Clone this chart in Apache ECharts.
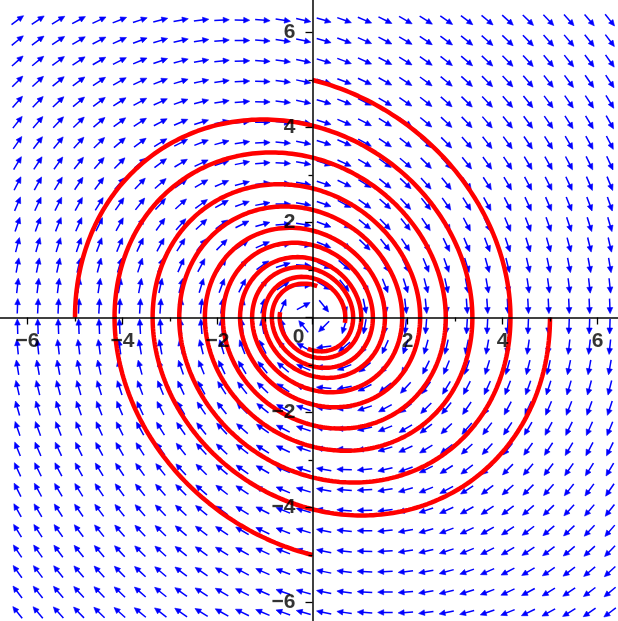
<!DOCTYPE html>
<html>
<head>
<meta charset="utf-8">
<script src="https://cdn.jsdelivr.net/npm/echarts@6/dist/echarts.min.js"></script>
<style>
  html, body { margin: 0; padding: 0; background: #fff; }
  #chart { width: 618px; height: 621px; }
</style>
</head>
<body>
<div id="chart"></div>
<script>
// Phase portrait of the damped oscillator  x' = y,  y' = -x - 0.25 y
const systemMatrix = [[0, 1], [-1, -0.25]];

// Starting points of the four solution curves and the time span they cover
const initialPoints = [[0, 5], [5, 0], [0, -5], [-5, 0]];
const timeSpan = [0, 16];
const timeStep = 0.02;

// Direction-field sample positions (same grid on both axes)
const fieldGridX = [-6.21, -5.78, -5.35, -4.92, -4.49, -4.06, -3.63, -3.20, -2.77, -2.34,
                    -1.91, -1.48, -1.05, -0.62, -0.19, 0.24, 0.67, 1.10, 1.53, 1.96,
                    2.39, 2.82, 3.25, 3.68, 4.11, 4.54, 4.97, 5.40, 5.83, 6.26];
const fieldGridY = [-6.21, -5.78, -5.35, -4.92, -4.49, -4.06, -3.63, -3.20, -2.77, -2.34,
                    -1.91, -1.48, -1.05, -0.62, -0.19, 0.24, 0.67, 1.10, 1.53, 1.96,
                    2.39, 2.82, 3.25, 3.68, 4.11, 4.54, 4.97, 5.40, 5.83, 6.26];

// Axis extent and labelled tick values
const axisRange = [-8, 8];
const majorStep = 2;
const xTickLabels = [-6, -4, -2, 2, 4, 6];
const yTickLabels = [-6, -4, -2, 2, 4, 6];

function field(x, y) {
  return [
    systemMatrix[0][0] * x + systemMatrix[0][1] * y,
    systemMatrix[1][0] * x + systemMatrix[1][1] * y
  ];
}

// Classical RK4 integration of one solution curve
function solutionCurve(p0) {
  const pts = [[p0[0], p0[1]]];
  let x = p0[0], y = p0[1];
  const n = Math.round((timeSpan[1] - timeSpan[0]) / timeStep);
  const h = timeStep;
  for (let i = 0; i < n; i++) {
    const k1 = field(x, y);
    const k2 = field(x + h / 2 * k1[0], y + h / 2 * k1[1]);
    const k3 = field(x + h / 2 * k2[0], y + h / 2 * k2[1]);
    const k4 = field(x + h * k3[0], y + h * k3[1]);
    x += h / 6 * (k1[0] + 2 * k2[0] + 2 * k3[0] + k4[0]);
    y += h / 6 * (k1[1] + 2 * k2[1] + 2 * k3[1] + k4[1]);
    pts.push([x, y]);
  }
  return pts;
}

const fieldData = [];
fieldGridY.forEach(function (gy) {
  fieldGridX.forEach(function (gx) { fieldData.push([gx, gy]); });
});

const BLUE = '#0000ff';
const ARROW_LEN = 15, HEAD_LEN = 6, HEAD_HALF = 2.8;

function renderArrow(params, api) {
  const x = api.value(0), y = api.value(1);
  const v = field(x, y);
  const c = api.coord([x, y]);
  const tip0 = api.coord([x + v[0], y + v[1]]);
  let ux = tip0[0] - c[0], uy = tip0[1] - c[1];
  const n = Math.hypot(ux, uy) || 1;
  ux /= n; uy /= n;
  const tail = [c[0] - ux * ARROW_LEN / 2, c[1] - uy * ARROW_LEN / 2];
  const tip = [c[0] + ux * ARROW_LEN / 2, c[1] + uy * ARROW_LEN / 2];
  const base = [tip[0] - ux * HEAD_LEN, tip[1] - uy * HEAD_LEN];
  return {
    type: 'group',
    children: [
      { type: 'line', shape: { x1: tail[0], y1: tail[1], x2: base[0] + ux, y2: base[1] + uy },
        style: { stroke: BLUE, lineWidth: 1.5 } },
      { type: 'polygon',
        shape: { points: [tip, [base[0] - uy * HEAD_HALF, base[1] + ux * HEAD_HALF],
                               [base[0] + uy * HEAD_HALF, base[1] - ux * HEAD_HALF]] },
        style: { fill: BLUE, stroke: BLUE, lineWidth: 0.6 } }
    ]
  };
}

function signed(v) {
  return v < 0 ? '\u2212' + (-v) : String(v);
}

const labelFont = { fontFamily: 'Liberation Sans', fontSize: 21, fontWeight: 'bold', color: '#000000' };

const curveSeries = initialPoints.map(function (p) {
  return {
    type: 'line',
    data: solutionCurve(p),
    showSymbol: false,
    symbol: 'none',
    smooth: false,
    z: 3,
    lineStyle: { color: '#ff0000', width: 4.5 },
    silent: true
  };
});

function labelSeries(points, label) {
  return {
    type: 'scatter',
    data: points,
    symbolSize: 0,
    zlevel: 1,
    z: 20,
    silent: true,
    label: Object.assign({ show: true }, labelFont, label)
  };
}

const axisStyle = {
  axisLine: { show: true, onZero: true, lineStyle: { color: '#000', width: 1.5 } },
  axisTick: { show: true, length: 7, lineStyle: { color: '#000', width: 1.3 } },
  minorTick: { show: true, splitNumber: 2, length: 4, lineStyle: { color: '#000', width: 1.3 } },
  splitLine: { show: false },
  axisLabel: { show: false }
};

const chart = echarts.init(document.getElementById('chart'), null, { renderer: 'canvas' });
chart.setOption({
  animation: false,
  backgroundColor: '#ffffff',
  grid: { left: -67.5, top: -62.5, width: 760, height: 760, containLabel: false, outerBoundsMode: 'none' },
  xAxis: Object.assign({
    type: 'value', min: axisRange[0], max: axisRange[1], interval: majorStep,
    position: 'bottom', z: 10
  }, axisStyle),
  yAxis: Object.assign({
    type: 'value', min: axisRange[0], max: axisRange[1], interval: majorStep,
    position: 'left', z: 10
  }, axisStyle),
  series: [
    {
      type: 'custom',
      renderItem: renderArrow,
      data: fieldData,
      z: 2,
      silent: true
    }
  ].concat(curveSeries).concat([
    labelSeries(xTickLabels.map(function (v) { return [v, 0]; }), {
      position: 'inside', offset: [0, 24],
      formatter: function (p) { return signed(p.value[0]); }
    }),
    labelSeries(yTickLabels.map(function (v) { return [0, v]; }), {
      position: 'left', distance: 17, align: 'right',
      formatter: function (p) { return signed(p.value[1]); }
    }),
    labelSeries([[0, 0]], { position: 'inside', offset: [-14, 20], formatter: '0' })
  ])
});
</script>
</body>
</html>
